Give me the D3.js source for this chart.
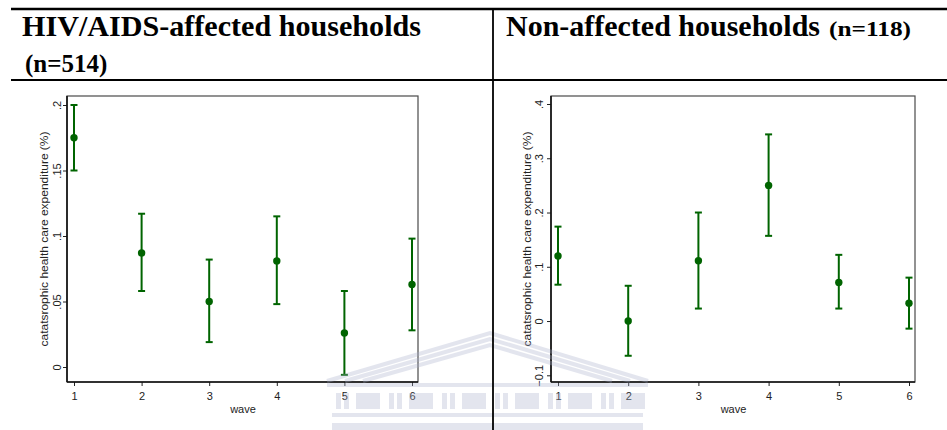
<!DOCTYPE html>
<html>
<head>
<meta charset="utf-8">
<script src="https://cdn.jsdelivr.net/npm/d3@7"></script>
<style>
  html, body { margin: 0; padding: 0; background: #fff; }
  svg { display: block; }
</style>
</head>
<body>
<svg id="chart" width="947" height="430"></svg>
<script>
// Waves of the household survey
const waves = [1, 2, 3, 4, 5, 6];

// HIV/AIDS-affected households: mean and 95% interval per wave
const affectedMean = [0.175, 0.087, 0.050, 0.081, 0.026, 0.063];
const affectedLow  = [0.150, 0.058, 0.019, 0.048, -0.006, 0.028];
const affectedHigh = [0.200, 0.117, 0.082, 0.115, 0.058, 0.098];
const affectedTicks = [0, 0.05, 0.1, 0.15, 0.2];

// Non-affected households: mean and 95% interval per wave
const nonAffectedMean = [0.120, 0.000, 0.111, 0.250, 0.071, 0.033];
const nonAffectedLow  = [0.067, -0.064, 0.023, 0.157, 0.023, -0.014];
const nonAffectedHigh = [0.174, 0.065, 0.200, 0.344, 0.122, 0.080];
const nonAffectedTicks = [-0.1, 0, 0.1, 0.2, 0.3, 0.4];

const yTitle = "catatsrophic health care expenditure (%)";
const xTitle = "wave";

const svg = d3.select("#chart");
const GREEN = "#006400";
const SANS = "'Liberation Sans', Arial, sans-serif";
const SERIF = "'Liberation Serif', 'Times New Roman', serif";

// Stata-like tick labels: ".05", "-.1", "0"
const fmt = v => {
  if (v === 0) return "0";
  const s = d3.format("~g")(v);
  return s.replace(/^(-?)0\./, "$1.");
};

const panels = [
  {
    box: { x0: 67, x1: 418, y0: 96, y1: 382 },
    xRange: [74, 412], yDomain: [0, 0.2], yRange: [367, 105],
    ticks: affectedTicks, mean: affectedMean, low: affectedLow, high: affectedHigh,
    tickLabelOffset: -6, titleX: 48
  },
  {
    box: { x0: 551, x1: 915, y0: 96, y1: 382 },
    xRange: [558, 909], yDomain: [-0.1, 0.4], yRange: [375.3, 104],
    ticks: nonAffectedTicks, mean: nonAffectedMean, low: nonAffectedLow, high: nonAffectedHigh,
    tickLabelOffset: -8, titleX: 531
  }
];

panels.forEach(p => {
  const g = svg.append("g");
  const x = d3.scaleLinear().domain([1, 6]).range(p.xRange);
  const y = d3.scaleLinear().domain(p.yDomain).range(p.yRange);
  const b = p.box;

  // plot frame
  g.append("rect")
    .attr("x", b.x0).attr("y", b.y0)
    .attr("width", b.x1 - b.x0).attr("height", b.y1 - b.y0)
    .attr("fill", "#fff").attr("stroke", "#4a4a4a").attr("stroke-width", 1.2);

  // x axis
  const xa = g.append("g").attr("transform", `translate(0,${b.y1})`)
    .call(d3.axisBottom(x).tickValues(waves).tickFormat(d3.format("d"))
      .tickSize(4).tickSizeOuter(0).tickPadding(6));
  xa.select(".domain").remove();
  g.append("line").attr("x1", b.x0).attr("x2", b.x1).attr("y1", b.y1).attr("y2", b.y1)
    .attr("stroke", "#111").attr("stroke-width", 1.6);

  // y axis
  const ya = g.append("g").attr("transform", `translate(${b.x0},0)`)
    .call(d3.axisLeft(y).tickValues(p.ticks).tickFormat(fmt).tickSize(4).tickSizeOuter(0));
  ya.select(".domain").remove();
  ya.selectAll(".tick text")
    .attr("x", 0).attr("y", 0).attr("dy", 0)
    .attr("text-anchor", "middle")
    .attr("transform", `translate(${p.tickLabelOffset},0) rotate(-90)`);
  g.append("line").attr("x1", b.x0).attr("x2", b.x0).attr("y1", b.y0).attr("y2", b.y1)
    .attr("stroke", "#111").attr("stroke-width", 1.6);

  g.selectAll(".tick line").attr("stroke", "#222");
  g.selectAll(".tick text").attr("font-family", SANS).attr("font-size", 11).attr("fill", "#222");

  // axis titles
  g.append("text")
    .attr("x", (p.xRange[0] + p.xRange[1]) / 2).attr("y", b.y1 + 31)
    .attr("text-anchor", "middle").attr("font-family", SANS).attr("font-size", 11)
    .attr("fill", "#222").text(xTitle);
  g.append("text")
    .attr("transform", `translate(${p.titleX},${(b.y0 + b.y1) / 2}) rotate(-90)`)
    .attr("text-anchor", "middle").attr("font-family", SANS).attr("font-size", 11.5)
    .attr("textLength", 215).attr("lengthAdjust", "spacingAndGlyphs")
    .attr("fill", "#222").text(yTitle);

  // error bars with caps
  const rows = waves.map((w, i) => ({ w, m: p.mean[i], lo: p.low[i], hi: p.high[i] }));
  const bars = g.append("g").attr("stroke", GREEN).attr("stroke-width", 2);
  bars.selectAll("line.v").data(rows).join("line").attr("class", "v")
    .attr("x1", d => x(d.w)).attr("x2", d => x(d.w))
    .attr("y1", d => y(d.lo)).attr("y2", d => y(d.hi));
  bars.selectAll("line.hi").data(rows).join("line").attr("class", "hi")
    .attr("x1", d => x(d.w) - 3.5).attr("x2", d => x(d.w) + 3.5)
    .attr("y1", d => y(d.hi)).attr("y2", d => y(d.hi));
  bars.selectAll("line.lo").data(rows).join("line").attr("class", "lo")
    .attr("x1", d => x(d.w) - 3.5).attr("x2", d => x(d.w) + 3.5)
    .attr("y1", d => y(d.lo)).attr("y2", d => y(d.lo));
  g.selectAll("circle").data(rows).join("circle")
    .attr("cx", d => x(d.w)).attr("cy", d => y(d.m)).attr("r", 3.7)
    .attr("fill", GREEN);
});

// faint building emblem in the page background
const wm = svg.append("g").attr("opacity", 0.32).attr("fill", "#a9b0cc").attr("stroke", "#a9b0cc");
[0, 6, 12].forEach(o => {
  wm.append("polyline")
    .attr("points", `${327 + o * 3},${381} ${490},${333 + o} ${648 - o * 3},${381}`)
    .attr("fill", "none").attr("stroke-width", 4);
});
wm.append("rect").attr("x", 327).attr("y", 383).attr("width", 321).attr("height", 4).attr("stroke", "none");
for (let cx = 336; cx < 640; cx += 53) {
  wm.append("rect").attr("x", cx).attr("y", 393).attr("width", 5).attr("height", 16).attr("stroke", "none");
  wm.append("rect").attr("x", cx + 8).attr("y", 393).attr("width", 5).attr("height", 16).attr("stroke", "none");
  wm.append("rect").attr("x", cx + 20).attr("y", 393).attr("width", 24).attr("height", 16).attr("stroke", "none");
}
wm.append("rect").attr("x", 332).attr("y", 413).attr("width", 311).attr("height", 4).attr("stroke", "none");
wm.append("rect").attr("x", 332).attr("y", 423).attr("width", 311).attr("height", 7).attr("stroke", "none");

// table rules
svg.append("line").attr("x1", 11).attr("x2", 947).attr("y1", 9).attr("y2", 9)
  .attr("stroke", "#000").attr("stroke-width", 2.6);
svg.append("line").attr("x1", 11).attr("x2", 947).attr("y1", 80).attr("y2", 80)
  .attr("stroke", "#000").attr("stroke-width", 2.2);
svg.append("line").attr("x1", 493).attr("x2", 493).attr("y1", 8).attr("y2", 430)
  .attr("stroke", "#000").attr("stroke-width", 1.8);

// column headings
svg.append("text").attr("x", 22).attr("y", 36)
  .attr("font-family", SERIF).attr("font-weight", "bold").attr("font-size", 29)
  .attr("textLength", 399).attr("lengthAdjust", "spacingAndGlyphs")
  .text("HIV/AIDS-affected households");
svg.append("text").attr("x", 25).attr("y", 72)
  .attr("font-family", SERIF).attr("font-weight", "bold").attr("font-size", 25)
  .text("(n=514)");
svg.append("text").attr("x", 506).attr("y", 36)
  .attr("font-family", SERIF).attr("font-weight", "bold").attr("font-size", 29)
  .attr("textLength", 314).attr("lengthAdjust", "spacingAndGlyphs")
  .text("Non-affected households");
svg.append("text").attr("x", 829).attr("y", 36)
  .attr("font-family", SERIF).attr("font-weight", "bold").attr("font-size", 21)
  .attr("textLength", 82).attr("lengthAdjust", "spacingAndGlyphs")
  .text("(n=118)");
</script>
</body>
</html>
